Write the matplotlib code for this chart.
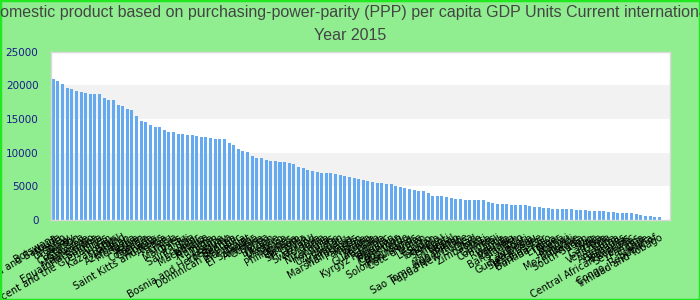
import numpy as np
import matplotlib
matplotlib.use('Agg')
import matplotlib.pyplot as plt
from matplotlib.patches import Rectangle

countries = [
    'Botswana', 'Antigua and Barbuda', 'Mexico', 'Uruguay', 'Turkey', 'Lebanon',
    'Costa Rica', 'Suriname', 'Montenegro', 'Equatorial Guinea', 'Bulgaria',
    'Saint Vincent and the Grenadines', 'Iran', 'Kazakhstan', 'Brazil', 'Thailand',
    'Azerbaijan', 'Mongolia', 'Serbia', 'Gabon', 'Colombia', 'Grenada', 'Albania',
    'Saint Kitts and Nevis', 'Algeria', 'Peru', 'Tunisia', 'Maldives', 'Palau',
    'Fiji', 'Saint Lucia', 'Ecuador', 'Macedonia', 'Jamaica', 'Namibia', 'Jordan',
    'Belize', 'Paraguay', 'Bosnia and Herzegovina', 'Georgia', 'Dominican Republic',
    'Indonesia', 'Egypt', 'El Salvador', 'Armenia', 'Guyana', 'Tonga', 'Bhutan',
    'Ukraine', 'Morocco', 'Samoa', 'Philippines', 'Bolivia', 'Vietnam', 'Sri Lanka',
    'Tuvalu', 'Swaziland', 'Moldova', 'India', 'Nicaragua', 'Honduras', 'Laos',
    'Uzbekistan', 'Vanuatu', 'Micronesia', 'Marshall Islands', 'Pakistan', 'Nigeria',
    'Ghana', 'Zambia', 'Guatemala', 'Kenya', 'Kyrgyz Republic', 'Tajikistan',
    'Myanmar', 'Cameroon', 'Cabo Verde', 'Mauritania', 'Solomon Islands',
    "Cote d'Ivoire", 'Yemen', 'Lesotho', 'Sudan', 'Tanzania', 'Senegal', 'Djibouti',
    'Nepal', 'Benin', 'Afghanistan', 'Sao Tome and Principe', 'Papua New Guinea',
    'Chad', 'Zimbabwe', 'Haiti', 'Guinea', 'Comoros', 'Mali', 'Rwanda', 'Uganda',
    'Ethiopia', 'Bangladesh', 'Togo', 'Kiribati', 'Cambodia', 'Guinea-Bissau',
    'Sierra Leone', 'Madagascar', 'Burkina Faso', 'Eritrea', 'Niger', 'Liberia',
    'Malawi', 'Burundi', 'Mozambique', 'Angola', 'South Sudan', 'Iraq', 'Syria',
    'Gambia', 'Libya', 'Venezuela', 'Cuba', 'Argentina', 'Barbados', 'Bahamas',
    'Central African Republic', 'Seychelles', 'Panama', 'Chile', 'Somalia',
    'Congo, Republic of', 'Trinidad and Tobago',
]

gdp = [
    20920, 20620, 20180, 19580, 19440, 19140, 18990, 18840, 18690, 18690,
    18690, 18100, 17800, 17800, 17060, 16910, 16470, 16320, 15430, 14690,
    14540, 14090, 13800, 13800, 13350, 13060, 13060, 12760, 12760, 12610,
    12610, 12460, 12310, 12310, 12170, 12020, 12020, 12020, 11420, 11130,
    10530, 10240, 10090, 9500, 9200, 9200, 8900, 8750, 8750, 8610,
    8610, 8460, 8310, 7860, 7720, 7420, 7270, 7120, 6970, 6970,
    6970, 6820, 6680, 6530, 6380, 6230, 6080, 5930, 5790, 5640,
    5490, 5490, 5340, 5340, 5040, 4900, 4750, 4600, 4450, 4300,
    4300, 4010, 3560, 3560, 3560, 3410, 3260, 3120, 3120, 2970,
    2970, 2970, 2970, 2970, 2670, 2520, 2370, 2370, 2370, 2230,
    2230, 2230, 2230, 2080, 1930, 1930, 1780, 1780, 1630, 1630,
    1630, 1630, 1630, 1480, 1480, 1480, 1340, 1340, 1340, 1340,
    1190, 1190, 1040, 1040, 1040, 1040, 890, 740, 590, 590,
    450, 450,
]

title = ('Gross domestic product based on purchasing-power-parity (PPP) per capita '
         'GDP Units Current international dollar\nYear 2015')

bg = '#90ee90'
fig = plt.figure(figsize=(7, 3), dpi=100, facecolor=bg)
ax = fig.add_axes([51 / 700, 80 / 300, 619 / 700, 168.5 / 300])
ax.set_facecolor('white')

# alternating grey bands
for lo in (5000, 15000):
    ax.axhspan(lo, lo + 5000, color='#f2f2f2', zorder=0, lw=0)

x = np.arange(len(countries))
ax.bar(x, gdp, width=0.65, color='#65aaf0', zorder=2)

ax.set_ylim(0, 25000)
ax.set_xlim(-0.5, len(countries) + 1.3)
ax.set_yticks([0, 5000, 10000, 15000, 20000, 25000])
ax.set_yticklabels(['0', '5000', '10000', '15000', '20000', '25000'])
ax.tick_params(axis='y', length=0, pad=9, labelsize=7.5, labelcolor='#1a1a8c')
ax.set_xticks(x)
ax.set_xticklabels(countries, rotation=30, ha='right', rotation_mode='anchor',
                   fontsize=7)
ax.tick_params(axis='x', length=0, pad=9)
for s in ax.spines.values():
    s.set_color('#d9d9d9')
    s.set_linewidth(1)

fig.text(0.5, 0.985, title, ha='center', va='top', fontsize=11.5,
         family='Liberation Sans', color='#444444', linespacing=1.7)

fig.patches.append(Rectangle((0, 0), 1, 1, transform=fig.transFigure,
                             fill=False, edgecolor='#22e822', lw=2.5))

fig.savefig('out.png', dpi=100, facecolor=bg)
